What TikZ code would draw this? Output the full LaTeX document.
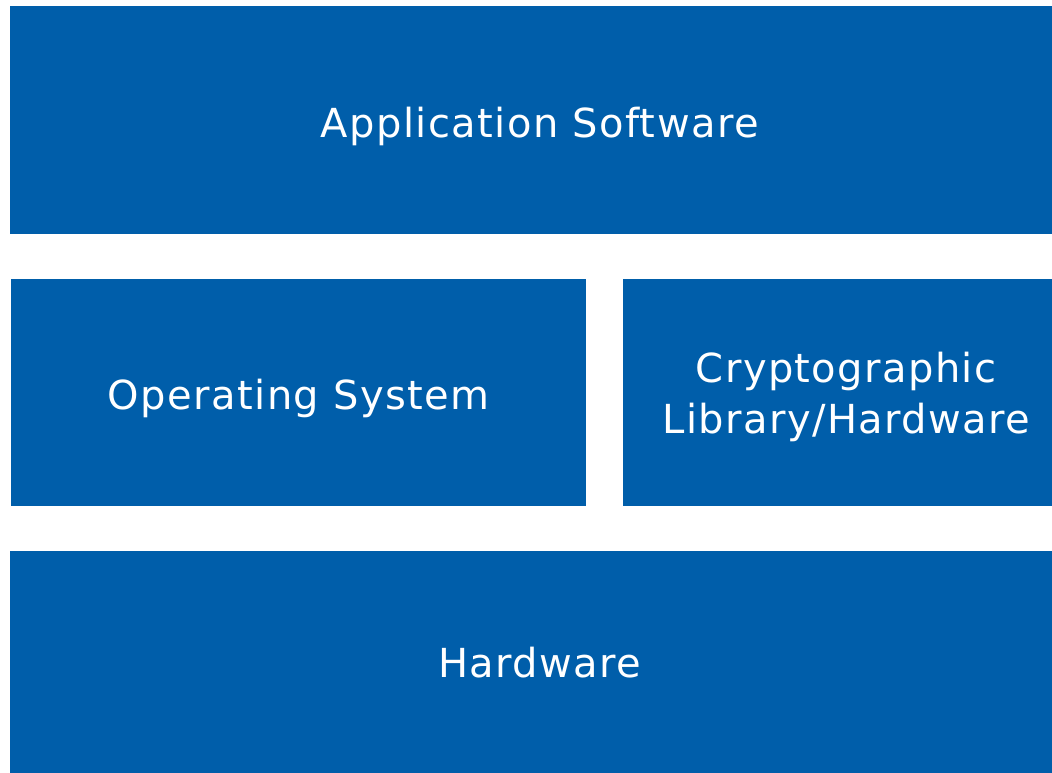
\documentclass[tikz,border=0pt]{standalone}
\usepackage{fontspec}
\setmainfont{DejaVu Sans}[LetterSpace=3.5]
\begin{document}
\begin{tikzpicture}[x=1pt,y=-1pt,
  layer/.style={fill=layerblue, draw=none, inner sep=0pt, anchor=north west},
  caption/.style={text=white, font=\fontsize{40}{51}\selectfont, align=center, inner sep=0pt}]
  \definecolor{layerblue}{RGB}{0,94,170}
  \useasboundingbox (0,0) rectangle (1052,773);
  \clip (0,0) rectangle (1052,773);
  % the layered stack, from the applications down to the hardware
  \node[layer, minimum width=1059pt, minimum height=228pt] (app) at (10,6) {};
  \node[layer, minimum width=575pt, minimum height=227pt] (os) at (11,279) {};
  \node[layer, minimum width=446pt, minimum height=227pt] (crypto) at (623,279) {};
  \node[layer, minimum width=1059pt, minimum height=223pt] (hw) at (10,551) {};
  % captions
  \node[caption, text height=34pt, text depth=0pt] (appText) at (app.center) {Application Software};
  \node[caption, text height=34pt, text depth=0pt] (osText) at (os.center) {Operating System};
  \node[caption, yshift=-4pt] (cryptoText) at (crypto.center) {Cryptographic\\Library/Hardware};
  \node[caption, text height=30pt, text depth=0pt] (hwText) at (hw.center) {Hardware};
\end{tikzpicture}
\end{document}
